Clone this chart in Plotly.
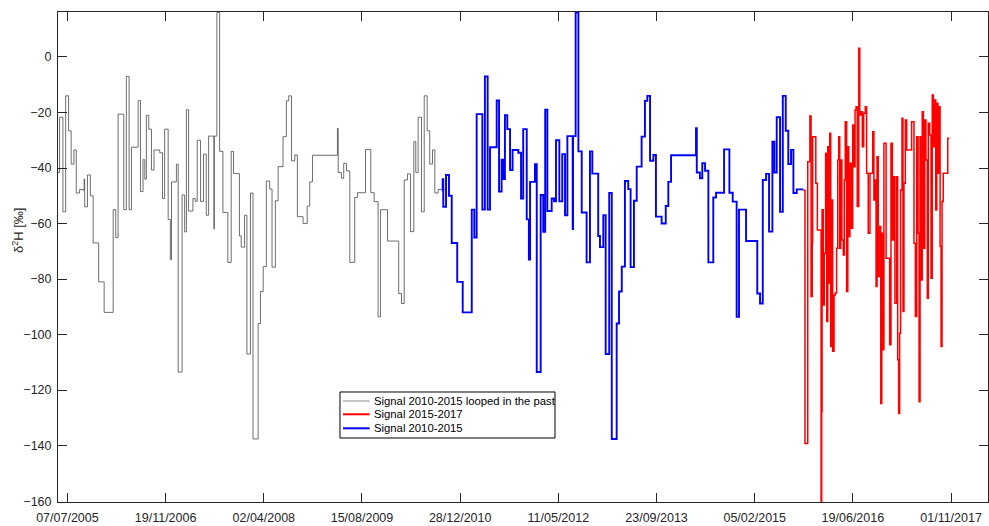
import plotly.graph_objects as go
import pandas as pd

# ---- Signal 2010-2015 (blue), step values ----
blue_dates = [
    "2010-09-25", "2010-09-30", "2010-10-03", "2010-10-17", "2010-11-01", "2010-11-15",
    "2010-12-13", "2011-01-10", "2011-02-25", "2011-03-10", "2011-03-22", "2011-04-20",
    "2011-05-03", "2011-05-17", "2011-05-29", "2011-07-02", "2011-07-14", "2011-07-27",
    "2011-08-05", "2011-08-13", "2011-08-25", "2011-09-08", "2011-09-21", "2011-10-20",
    "2011-11-03", "2011-11-14", "2011-12-02", "2011-12-13", "2011-12-19", "2012-01-13",
    "2012-01-22", "2012-02-11", "2012-02-24", "2012-03-05", "2012-03-16", "2012-04-07",
    "2012-04-19", "2012-04-29", "2012-05-16", "2012-05-31", "2012-06-14", "2012-06-26",
    "2012-07-23", "2012-07-25", "2012-08-07", "2012-08-21", "2012-09-07", "2012-10-02",
    "2012-10-19", "2012-10-31", "2012-11-30", "2012-12-09", "2012-12-26", "2013-01-07",
    "2013-01-25", "2013-02-07", "2013-03-04", "2013-03-16", "2013-03-30", "2013-04-15",
    "2013-05-02", "2013-05-14", "2013-05-31", "2013-06-14", "2013-07-09", "2013-07-26",
    "2013-08-07", "2013-08-21", "2013-09-07", "2013-09-20", "2013-10-19", "2013-11-09",
    "2013-11-22", "2013-12-06", "2014-04-12", "2014-04-16", "2014-05-02", "2014-05-14",
    "2014-05-28", "2014-06-14", "2014-07-09", "2014-07-23", "2014-09-02", "2014-09-29",
    "2014-10-16", "2014-11-05", "2014-11-17", "2014-12-23", "2015-02-18", "2015-03-04",
    "2015-03-18", "2015-04-04", "2015-04-19", "2015-05-06", "2015-05-16", "2015-05-28",
    "2015-06-14", "2015-06-28", "2015-07-13", "2015-07-26", "2015-08-09", "2015-08-21",
    "2015-09-07",
]
blue_values = [
    -48, -44, -54, -42.5, -50, -67,
    -81, -92, -55, -65, -20.6, -55,
    -7, -55, -32.5, -15.7, -48.5, -37,
    -44, -21, -26, -40.7, -33.5, -34.5,
    -51, -26, -58.5, -73, -45, -38.6,
    -113.5, -49.7, -63, -19, -55.5, -51,
    -52, -30, -52, -35, -57, -28.5,
    -62, -28.5, 16, -34, -56, -74,
    -34, -42, -64.5, -68.5, -57, -107,
    -49, -137.6, -96, -84.5, -75.5, -44.7,
    -47.6, -75.7, -51.8, -39.5, -28.7, -15.8,
    -14, -37.4, -35.3, -57.5, -60, -53.7,
    -45, -35.4, -25.7, -41.6, -43.7, -38.3,
    -41, -74, -50.6, -48.9, -33.3, -48.9,
    -52.1, -93.6, -55, -66.3, -85.2, -88.8,
    -44.3, -42.1, -62.9, -30.5, -41.6, -21.7,
    -55.8, -14, -26.6, -38.6, -33.5, -49,
    -47.7,
]
blue_end = "2015-10-11"

# ---- Signal 2015-2017 (red), step values ----
red_dates = [
    "2015-10-11", "2015-10-19", "2015-11-02", "2015-11-13", "2015-11-19", "2015-11-25",
    "2015-11-27", "2015-12-13", "2015-12-21", "2016-01-09", "2016-01-12", "2016-01-14",
    "2016-01-20", "2016-01-25", "2016-02-01", "2016-02-07", "2016-02-12", "2016-02-17",
    "2016-02-22", "2016-02-27", "2016-03-03", "2016-03-08", "2016-03-15", "2016-03-21",
    "2016-03-28", "2016-04-03", "2016-04-08", "2016-04-13", "2016-04-18", "2016-04-24",
    "2016-05-01", "2016-05-06", "2016-05-11", "2016-05-18", "2016-05-24", "2016-05-29",
    "2016-06-04", "2016-06-11", "2016-06-18", "2016-06-25", "2016-06-30", "2016-07-05",
    "2016-07-11", "2016-07-19", "2016-07-24", "2016-07-30", "2016-08-06", "2016-08-13",
    "2016-08-21", "2016-08-28", "2016-09-05", "2016-09-14", "2016-09-28", "2016-10-04",
    "2016-10-10", "2016-10-15", "2016-10-20", "2016-10-26", "2016-10-31", "2016-11-08",
    "2016-11-13", "2016-11-18", "2016-11-24", "2016-12-05", "2016-12-23", "2016-12-30",
    "2017-01-06", "2017-01-13", "2017-01-19", "2017-01-28", "2017-02-02", "2017-02-07",
    "2017-02-12", "2017-02-17", "2017-02-24", "2017-03-01", "2017-03-06", "2017-03-13",
    "2017-03-20", "2017-04-14", "2017-04-26", "2017-05-03", "2017-05-10", "2017-05-17",
    "2017-05-22", "2017-05-27", "2017-06-02", "2017-06-07", "2017-06-13", "2017-06-20",
    "2017-06-26", "2017-07-03", "2017-07-08", "2017-07-15", "2017-07-22", "2017-07-28",
    "2017-08-03", "2017-08-10", "2017-08-15", "2017-08-20", "2017-08-26", "2017-09-01",
    "2017-09-06", "2017-09-11", "2017-09-16", "2017-09-22", "2017-10-15",
]
red_values = [
    -48, -139.2, -37.7, -21.3, -86.3, -67,
    -28.7, -45.5, -62.3, -160.2, -127.8, -55,
    -89.3, -70.7, -34.7, -95.3, -32.3, -81.5,
    -27.5, -104.3, -51.5, -106, -85.7, -85,
    -68.9, -37.1, -28.7, -68.9, -37.1, -65.9,
    -71.3, -44.3, -23.3, -84.5, -32.3, -64.7,
    -38.3, -61.7, -24.5, -39.5, -19.1, -17.9,
    -53.9, 3.1, -20.9, -19.7, -32.3, -20.3,
    -17.9, -41.9, -63.5, -41.9, -26.9, -51.5,
    -44.3, -82.7, -35.9, -79.1, -61.1, -124.8,
    -63.5, -105.5, -31.1, -72.5, -103.7, -31.1,
    -65.9, -43.1, -88.7, -43.1, -109.1, -128.4,
    -99.5, -47.9, -22.1, -91.7, -45.5, -22.7,
    -33.5, -23.3, -67.1, -93.5, -28.7, -63.5,
    -124.2, -28.7, -80.3, -19.7, -68.9, -22.7,
    -37.1, -86.9, -23.9, -28.1, -79.7, -13.7,
    -32.3, -15.5, -55.1, -16.7, -41.9, -17.9,
    -68.3, -104.3, -52.1, -41.9, -29.3,
]
red_end = "2017-10-23"

# the 2010-2015 signal is looped back into the past by these whole-year shifts
loop_shifts_years = [10, 5]

x_tick_dates = ["2005-07-07", "2006-11-19", "2008-04-02", "2009-08-15", "2010-12-28",
                "2012-05-11", "2013-09-23", "2015-02-05", "2016-06-19", "2017-11-01"]
x_tick_labels = ["07/07/2005", "19/11/2006", "02/04/2008", "15/08/2009", "28/12/2010",
                 "11/05/2012", "23/09/2013", "05/02/2015", "19/06/2016", "01/11/2017"]
y_tick_vals = [-160, -140, -120, -100, -80, -60, -40, -20, 0]

series_names = ["Signal 2010-2015 looped in the past", "Signal 2015-2017", "Signal 2010-2015"]
series_colors = ["#6e6e6e", "#ff0000", "#0000ff"]

# ---- build step series ----
bx = pd.to_datetime(blue_dates + [blue_end])
by = blue_values + [blue_values[-1]]
rx = pd.to_datetime(red_dates + [red_end])
ry = red_values + [red_values[-1]]

gx, gy = [], []
copies = [(bx - pd.DateOffset(years=yrs), by) for yrs in loop_shifts_years]
for i, (cx, cy) in enumerate(copies):
    limit = copies[i + 1][0][0] if i + 1 < len(copies) else None
    for d, v in zip(cx, cy):
        if limit is not None and d >= limit:
            break
        gx.append(d)
        gy.append(v)

FONT = "Liberation Sans, Arial, Helvetica, sans-serif"
AX = "#262626"

fig = go.Figure()
fig.add_trace(go.Scatter(x=gx, y=gy, mode="lines", line_shape="hv",
                         line=dict(color="#4a4a4a", width=0.8),
                         name=series_names[0], showlegend=False))
fig.add_trace(go.Scatter(x=bx, y=by, mode="lines", line_shape="hv",
                         line=dict(color="#0000ff", width=1.9),
                         name=series_names[2], showlegend=False))
fig.add_trace(go.Scatter(x=rx, y=ry, mode="lines", line_shape="hv",
                         line=dict(color="#ff0000", width=1.5),
                         name=series_names[1], showlegend=False))

# ---- compact MATLAB-style legend box (paper coordinates) ----
leg_x0, leg_x1, leg_y0, leg_y1 = 0.3032, 0.5344, 0.1306, 0.2245
row_y = [0.2061, 0.1790, 0.1504]
line_x0, line_x1, text_x = 0.3065, 0.3351, 0.3375
shapes = [dict(type="rect", xref="paper", yref="paper", x0=leg_x0, x1=leg_x1,
               y0=leg_y0, y1=leg_y1, line=dict(color="#000000", width=1),
               fillcolor="white", layer="above")]
widths = [0.8, 2, 2]
annotations = []
for name, col, w, yy in zip(series_names, series_colors, widths, row_y):
    shapes.append(dict(type="line", xref="paper", yref="paper", x0=line_x0, x1=line_x1,
                       y0=yy, y1=yy, line=dict(color=col, width=w), layer="above"))
    annotations.append(dict(text=name, xref="paper", yref="paper", x=text_x, y=yy,
                            xanchor="left", yanchor="middle", showarrow=False,
                            font=dict(size=11.3, color="#000000")))
annotations.append(dict(text="δ<sup>2</sup>H [‰]", xref="paper", yref="paper",
                        x=-0.043, y=0.555, xanchor="center", yanchor="middle",
                        textangle=-90, showarrow=False,
                        font=dict(size=13, color=AX)))

fig.update_layout(
    width=989, height=526,
    margin=dict(l=58, r=1, t=12, b=24),
    paper_bgcolor="white", plot_bgcolor="white",
    font=dict(family=FONT, size=12.5, color=AX),
    showlegend=False,
    shapes=shapes,
    annotations=annotations,
    xaxis=dict(
        type="date",
        range=["2005-05-20", "2018-05-08"],
        tickvals=pd.to_datetime(x_tick_dates), ticktext=x_tick_labels,
        ticks="inside", ticklen=9, tickcolor=AX, tickwidth=1,
        showline=True, linecolor=AX, linewidth=1, mirror="ticks",
        showgrid=False, zeroline=False,
        tickfont=dict(size=12.5, color=AX),
        ticklabelstandoff=4,
    ),
    yaxis=dict(
        range=[-160.3, 16.2],
        tickvals=y_tick_vals,
        ticks="inside", ticklen=9, tickcolor=AX, tickwidth=1,
        showline=True, linecolor=AX, linewidth=1, mirror="ticks",
        showgrid=False, zeroline=False,
        tickfont=dict(size=12.5, color=AX),
        ticklabelstandoff=3,
    ),
)

fig.write_html("out.html")
